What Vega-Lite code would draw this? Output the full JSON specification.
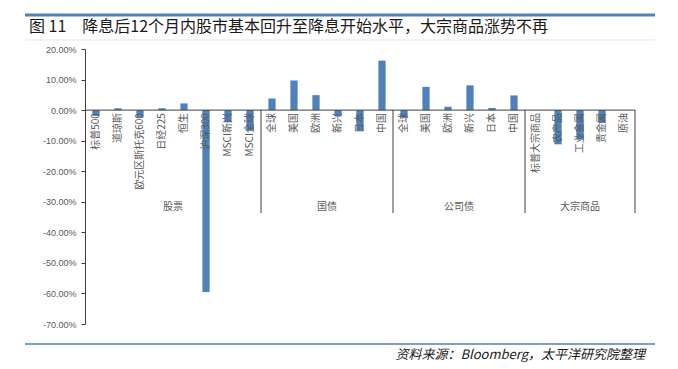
{
  "$schema": "https://vega.github.io/schema/vega-lite/v6.json",
  "width": 630,
  "height": 275,
  "autosize": {"type": "none"},
  "padding": {"left": 25, "top": 49, "right": 23, "bottom": 45},
  "background": "white",
  "title": {
    "text": "图 11　降息后12个月内股市基本回升至降息开始水平，大宗商品涨势不再",
    "anchor": "start",
    "frame": "group",
    "offset": -22,
    "dx": 4,
    "font": "Noto Sans CJK SC",
    "fontSize": 16,
    "fontWeight": "normal",
    "color": "#1a1a1a"
  },
  "config": {
    "view": {"stroke": null},
    "axis": {"grid": false, "labelOverlap": false}
  },
  "datasets": {
    "main": [
      {"group": "股票", "name": "标普500", "key": "股票|标普500", "value": -0.019},
      {"group": "股票", "name": "道琼斯", "key": "股票|道琼斯", "value": 0.006},
      {"group": "股票", "name": "欧元区斯托克600", "key": "股票|欧元区斯托克600", "value": -0.024},
      {"group": "股票", "name": "日经225", "key": "股票|日经225", "value": 0.006},
      {"group": "股票", "name": "恒生", "key": "股票|恒生", "value": 0.022},
      {"group": "股票", "name": "沪深300", "key": "股票|沪深300", "value": -0.595},
      {"group": "股票", "name": "MSCI新兴", "key": "股票|MSCI新兴", "value": -0.04},
      {"group": "股票", "name": "MSCI全球", "key": "股票|MSCI全球", "value": -0.068},
      {"group": "国债", "name": "全球", "key": "国债|全球", "value": 0.038},
      {"group": "国债", "name": "美国", "key": "国债|美国", "value": 0.097},
      {"group": "国债", "name": "欧洲", "key": "国债|欧洲", "value": 0.049},
      {"group": "国债", "name": "新兴", "key": "国债|新兴", "value": -0.02},
      {"group": "国债", "name": "日本", "key": "国债|日本", "value": -0.067},
      {"group": "国债", "name": "中国", "key": "国债|中国", "value": 0.162},
      {"group": "公司债", "name": "全球", "key": "公司债|全球", "value": -0.025},
      {"group": "公司债", "name": "美国", "key": "公司债|美国", "value": 0.076},
      {"group": "公司债", "name": "欧洲", "key": "公司债|欧洲", "value": 0.011},
      {"group": "公司债", "name": "新兴", "key": "公司债|新兴", "value": 0.081},
      {"group": "公司债", "name": "日本", "key": "公司债|日本", "value": 0.007},
      {"group": "公司债", "name": "中国", "key": "公司债|中国", "value": 0.048},
      {"group": "大宗商品", "name": "标普大宗商品", "key": "大宗商品|标普大宗商品", "value": 0},
      {"group": "大宗商品", "name": "农产品", "key": "大宗商品|农产品", "value": -0.112},
      {"group": "大宗商品", "name": "工业金属", "key": "大宗商品|工业金属", "value": -0.095},
      {"group": "大宗商品", "name": "贵金属", "key": "大宗商品|贵金属", "value": -0.042},
      {"group": "大宗商品", "name": "原油", "key": "大宗商品|原油", "value": 0}
    ],
    "groupMid": [
      {"group": "股票", "key": "股票|日经225"},
      {"group": "国债", "key": "国债|欧洲"},
      {"group": "公司债", "key": "公司债|欧洲"}
    ],
    "groupOdd": [
      {"group": "大宗商品", "key": "大宗商品|工业金属"}
    ],
    "seps": [
      {"key": "股票|MSCI全球"},
      {"key": "国债|中国"},
      {"key": "公司债|中国"},
      {"key": "大宗商品|原油"}
    ],
    "one": [{"note": "资料来源：Bloomberg，太平洋研究院整理"}]
  },
  "layer": [
    {
      "data": {"name": "main"},
      "mark": {"type": "bar", "color": "#4F81BD", "width": {"band": 0.33}},
      "encoding": {
        "x": {
          "field": "key",
          "type": "nominal",
          "sort": null,
          "axis": null,
          "scale": {
            "domain": ["股票|标普500", "股票|道琼斯", "股票|欧元区斯托克600", "股票|日经225", "股票|恒生", "股票|沪深300", "股票|MSCI新兴", "股票|MSCI全球", "国债|全球", "国债|美国", "国债|欧洲", "国债|新兴", "国债|日本", "国债|中国", "公司债|全球", "公司债|美国", "公司债|欧洲", "公司债|新兴", "公司债|日本", "公司债|中国", "大宗商品|标普大宗商品", "大宗商品|农产品", "大宗商品|工业金属", "大宗商品|贵金属", "大宗商品|原油"],
            "range": [60, 610],
            "paddingInner": 0,
            "paddingOuter": 0
          }
        },
        "y": {
          "field": "value",
          "type": "quantitative",
          "scale": {"domain": [-0.7, 0.2], "nice": false, "zero": false},
          "axis": {
            "title": null,
            "offset": -60,
            "tickCount": 9,
            "format": ".2%",
            "labelExpr": "replace(datum.label, '−', '-')",
            "labelOverlap": false,
            "domainColor": "#404040",
            "tickColor": "#404040",
            "tickSize": 4,
            "labelPadding": 5,
            "labelFont": "Liberation Sans",
            "labelFontSize": 9,
            "labelColor": "#595959",
            "grid": false
          }
        }
      }
    },
    {
      "data": {"name": "one"},
      "mark": {"type": "rule", "color": "#4F81BD", "strokeWidth": 3},
      "encoding": {"y": {"datum": 0.3113, "type": "quantitative"}}
    },
    {
      "data": {"name": "one"},
      "mark": {"type": "rule", "color": "#e6e6e6", "strokeWidth": 1},
      "encoding": {"y": {"datum": 0.2295, "type": "quantitative"}}
    },
    {
      "data": {"name": "one"},
      "mark": {"type": "rule", "color": "#4F81BD", "strokeWidth": 1.5},
      "encoding": {"y": {"datum": -0.7654, "type": "quantitative"}}
    },
    {
      "data": {"name": "one"},
      "mark": {"type": "rule", "color": "#404040", "strokeWidth": 1},
      "encoding": {
        "x": {"datum": "股票|标普500", "type": "nominal", "bandPosition": 0},
        "x2": {"datum": "大宗商品|原油", "bandPosition": 1},
        "y": {"datum": 0, "type": "quantitative"}
      }
    },
    {
      "data": {"name": "seps"},
      "mark": {"type": "rule", "color": "#404040", "strokeWidth": 1},
      "encoding": {
        "x": {"field": "key", "type": "nominal", "sort": null, "bandPosition": 1},
        "y": {"datum": 0, "type": "quantitative"},
        "y2": {"datum": -0.337}
      }
    },
    {
      "data": {"name": "main"},
      "mark": {"type": "text", "angle": 270, "align": "right", "baseline": "middle", "dx": -3, "font": "Noto Sans CJK SC", "fontSize": 10, "color": "#595959"},
      "encoding": {
        "x": {"field": "key", "type": "nominal", "sort": null},
        "y": {"datum": 0, "type": "quantitative"},
        "text": {"field": "name"}
      }
    },
    {
      "data": {"name": "groupMid"},
      "mark": {"type": "text", "align": "center", "baseline": "middle", "font": "Noto Sans CJK SC", "fontSize": 10, "color": "#595959"},
      "encoding": {
        "x": {"field": "key", "type": "nominal", "sort": null, "bandPosition": 1},
        "y": {"datum": -0.317, "type": "quantitative"},
        "text": {"field": "group"}
      }
    },
    {
      "data": {"name": "groupOdd"},
      "mark": {"type": "text", "align": "center", "baseline": "middle", "font": "Noto Sans CJK SC", "fontSize": 10, "color": "#595959"},
      "encoding": {
        "x": {"field": "key", "type": "nominal", "sort": null, "bandPosition": 0.5},
        "y": {"datum": -0.317, "type": "quantitative"},
        "text": {"field": "group"}
      }
    },
    {
      "data": {"name": "one"},
      "mark": {"type": "text", "align": "right", "baseline": "middle", "dx": 10, "font": "Noto Sans CJK SC", "fontSize": 13, "fontStyle": "italic", "color": "#1a1a1a"},
      "encoding": {
        "x": {"datum": "大宗商品|原油", "type": "nominal", "bandPosition": 1},
        "y": {"datum": -0.8014, "type": "quantitative"},
        "text": {"field": "note"}
      }
    }
  ]
}
